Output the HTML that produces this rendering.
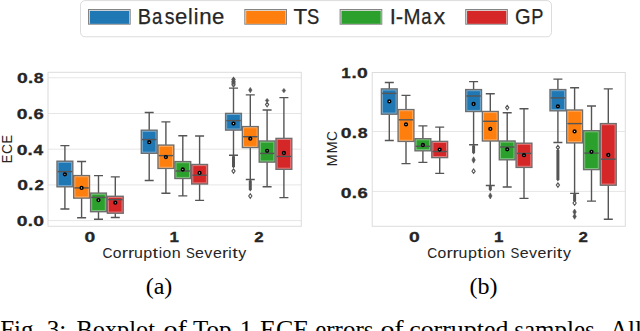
<!DOCTYPE html>
<html><head><meta charset="utf-8"><style>
html,body{margin:0;padding:0;background:#fff;width:640px;height:331px;overflow:hidden}
svg{display:block}
.tx{font-family:"Liberation Sans",sans-serif;fill:#262626}
.tk{font-family:"Liberation Sans",sans-serif;fill:#262626;font-weight:bold;stroke:#262626;stroke-width:0.3}
.lg{font-family:"Liberation Sans",sans-serif;fill:#262626;stroke:#262626;stroke-width:0.25}
.ser{font-family:"Liberation Serif",serif;fill:#000}
.ln{stroke:#555555;stroke-width:1.4;fill:none}
.bx{stroke:#6e6e6e;stroke-width:1.4}
.hl{fill:none;stroke:rgba(255,255,255,0.4);stroke-width:0.9}
.gr{stroke:#e6e6e6;stroke-width:1;fill:none}
.sp{stroke:#dcdcdc;stroke-width:1;fill:none}
.fl{fill:#fff;stroke:#555555;stroke-width:1.1}
.col{fill:#555555}
.mn{fill:#fff;stroke:#000;stroke-width:1.6}
</style></head><body>
<svg width="640" height="331" viewBox="0 0 640 331">
<rect x="80.5" y="0.6" width="471" height="36.2" rx="4.5" fill="#fff" stroke="#dcdcdc" stroke-width="1"/>
<rect x="88.5" y="9.5" width="41.7" height="14.7" fill="#dcdcdc" stroke="#858585" stroke-width="1"/>
<rect x="89.9" y="10.9" width="39.2" height="12.9" fill="#1f77b4"/>
<rect x="244.8" y="9.5" width="41.7" height="14.7" fill="#dcdcdc" stroke="#858585" stroke-width="1"/>
<rect x="246.20000000000002" y="10.9" width="39.2" height="12.9" fill="#ff7f0e"/>
<rect x="340.1" y="9.5" width="41.7" height="14.7" fill="#dcdcdc" stroke="#858585" stroke-width="1"/>
<rect x="341.5" y="10.9" width="39.2" height="12.9" fill="#2ca02c"/>
<rect x="465.7" y="9.5" width="41.7" height="14.7" fill="#dcdcdc" stroke="#858585" stroke-width="1"/>
<rect x="467.09999999999997" y="10.9" width="39.2" height="12.9" fill="#d62728"/>
<text class="lg" x="137.86" y="23.8" textLength="13.29" lengthAdjust="spacingAndGlyphs" style="font-size:21.5px">B</text>
<text class="lg" x="152.01" y="23.8" textLength="10.29" lengthAdjust="spacingAndGlyphs" style="font-size:21.5px">a</text>
<text class="lg" x="164.72" y="23.8" textLength="9.78" lengthAdjust="spacingAndGlyphs" style="font-size:21.5px">s</text>
<text class="lg" x="175.00" y="23.8" textLength="12.31" lengthAdjust="spacingAndGlyphs" style="font-size:21.5px">e</text>
<text class="lg" x="187.95" y="23.8" textLength="4.68" lengthAdjust="spacingAndGlyphs" style="font-size:21.5px">l</text>
<text class="lg" x="193.64" y="23.8" textLength="4.68" lengthAdjust="spacingAndGlyphs" style="font-size:21.5px">i</text>
<text class="lg" x="199.15" y="23.8" textLength="12.41" lengthAdjust="spacingAndGlyphs" style="font-size:21.5px">n</text>
<text class="lg" x="211.99" y="23.8" textLength="12.31" lengthAdjust="spacingAndGlyphs" style="font-size:21.5px">e</text>
<text class="lg" x="293.40" y="23.8" textLength="13.69" lengthAdjust="spacingAndGlyphs" style="font-size:21.5px">T</text>
<text class="lg" x="306.98" y="23.8" textLength="12.25" lengthAdjust="spacingAndGlyphs" style="font-size:21.5px">S</text>
<text class="lg" x="389.65" y="23.8" textLength="6.16" lengthAdjust="spacingAndGlyphs" style="font-size:21.5px">I</text>
<text class="lg" x="395.77" y="23.8" textLength="7.39" lengthAdjust="spacingAndGlyphs" style="font-size:21.5px">-</text>
<text class="lg" x="403.45" y="23.8" textLength="17.08" lengthAdjust="spacingAndGlyphs" style="font-size:21.5px">M</text>
<text class="lg" x="421.28" y="23.8" textLength="10.29" lengthAdjust="spacingAndGlyphs" style="font-size:21.5px">a</text>
<text class="lg" x="433.73" y="23.8" textLength="11.38" lengthAdjust="spacingAndGlyphs" style="font-size:21.5px">x</text>
<text class="lg" x="514.90" y="23.8" textLength="15.58" lengthAdjust="spacingAndGlyphs" style="font-size:21.5px">G</text>
<text class="lg" x="531.16" y="23.8" textLength="12.13" lengthAdjust="spacingAndGlyphs" style="font-size:21.5px">P</text>
<path d="M48 77.8H301.3" class="gr"/>
<path d="M48 113.5H301.3" class="gr"/>
<path d="M48 149.2H301.3" class="gr"/>
<path d="M48 184.9H301.3" class="gr"/>
<path d="M48 220.6H301.3" class="gr"/>
<rect x="48" y="72.3" width="253.3" height="154.0" class="sp"/>
<path d="M64.9 145.6V161.2M64.9 186.8V209.0M60.400000000000006 145.6H69.4M60.400000000000006 209.0H69.4" class="ln"/>
<rect x="57.00" y="161.2" width="15.80" height="25.60" fill="#1f77b4" class="bx"/>
<rect x="58.15" y="162.35" width="13.50" height="23.30" class="hl"/>
<path d="M57.70 171.6H72.10" class="ln"/>
<circle cx="64.9" cy="174.3" r="1.35" class="mn"/>
<path d="M81.6 161.5V175.6M81.6 198.1V217.8M77.1 161.5H86.1M77.1 217.8H86.1" class="ln"/>
<rect x="73.70" y="175.6" width="15.80" height="22.50" fill="#ff7f0e" class="bx"/>
<rect x="74.85" y="176.75" width="13.50" height="20.20" class="hl"/>
<path d="M74.40 187.9H88.80" class="ln"/>
<circle cx="81.6" cy="187.9" r="1.35" class="mn"/>
<path d="M98.5 175.6V193.1M98.5 211.7V219.3M94.0 175.6H103.0M94.0 219.3H103.0" class="ln"/>
<rect x="90.60" y="193.1" width="15.80" height="18.60" fill="#2ca02c" class="bx"/>
<rect x="91.75" y="194.25" width="13.50" height="16.30" class="hl"/>
<path d="M91.30 197.4H105.70" class="ln"/>
<circle cx="98.5" cy="200.1" r="1.35" class="mn"/>
<path d="M115.3 176.9V196.3M115.3 213.2V217.5M110.8 176.9H119.8M110.8 217.5H119.8" class="ln"/>
<rect x="107.40" y="196.3" width="15.80" height="16.90" fill="#d62728" class="bx"/>
<rect x="108.55" y="197.45" width="13.50" height="14.60" class="hl"/>
<path d="M108.10 199.6H122.50" class="ln"/>
<circle cx="115.3" cy="202.7" r="1.35" class="mn"/>
<path d="M149.2 112.5V130.2M149.2 153.3V180.5M144.7 112.5H153.7M144.7 180.5H153.7" class="ln"/>
<rect x="141.30" y="130.2" width="15.80" height="23.10" fill="#1f77b4" class="bx"/>
<rect x="142.45" y="131.35" width="13.50" height="20.80" class="hl"/>
<path d="M142.00 139.6H156.40" class="ln"/>
<circle cx="149.2" cy="142.2" r="1.35" class="mn"/>
<path d="M165.9 121.9V145.1M165.9 168.4V193.3M161.4 121.9H170.4M161.4 193.3H170.4" class="ln"/>
<rect x="158.00" y="145.1" width="15.80" height="23.30" fill="#ff7f0e" class="bx"/>
<rect x="159.15" y="146.25" width="13.50" height="21.00" class="hl"/>
<path d="M158.70 155.6H173.10" class="ln"/>
<circle cx="165.9" cy="157.1" r="1.35" class="mn"/>
<path d="M182.8 135.8V161.6M182.8 178.5V195.9M178.3 135.8H187.3M178.3 195.9H187.3" class="ln"/>
<rect x="174.90" y="161.6" width="15.80" height="16.90" fill="#2ca02c" class="bx"/>
<rect x="176.05" y="162.75" width="13.50" height="14.60" class="hl"/>
<path d="M175.60 171.0H190.00" class="ln"/>
<circle cx="182.8" cy="169.5" r="1.35" class="mn"/>
<path d="M199.6 136.0V164.5M199.6 184.0V200.4M195.1 136.0H204.1M195.1 200.4H204.1" class="ln"/>
<rect x="191.70" y="164.5" width="15.80" height="19.50" fill="#d62728" class="bx"/>
<rect x="192.85" y="165.65" width="13.50" height="17.20" class="hl"/>
<path d="M192.40 175.2H206.80" class="ln"/>
<circle cx="199.6" cy="172.9" r="1.35" class="mn"/>
<path d="M233.5 88.1V113.4M233.5 130.1V155.2M229.0 88.1H238.0M229.0 155.2H238.0" class="ln"/>
<rect x="225.60" y="113.4" width="15.80" height="16.70" fill="#1f77b4" class="bx"/>
<rect x="226.75" y="114.55" width="13.50" height="14.40" class="hl"/>
<path d="M226.30 120.6H240.70" class="ln"/>
<path d="M233.5 77.39999999999999L235.1 79.6L233.5 81.8L231.9 79.6Z" class="fl" style="fill:#8a8a8a"/>
<path d="M233.5 79.2L235.1 81.4L233.5 83.60000000000001L231.9 81.4Z" class="fl" style="fill:#8a8a8a"/>
<path d="M233.5 80.89999999999999L235.1 83.1L233.5 85.3L231.9 83.1Z" class="fl" style="fill:#8a8a8a"/>
<path d="M233.5 82.6L235.1 84.8L233.5 87.0L231.9 84.8Z" class="fl" style="fill:#8a8a8a"/>
<path d="M233.5 154.5L235.0 156.5V166.5L233.5 168.5L232.0 166.5V156.5Z" class="col"/>
<path d="M233.5 168.9L235.1 171.1L233.5 173.29999999999998L231.9 171.1Z" class="fl"/>
<circle cx="233.5" cy="123.6" r="1.35" class="mn"/>
<path d="M250.3 94.9V126.6M250.3 147.5V179.5M245.8 94.9H254.8M245.8 179.5H254.8" class="ln"/>
<rect x="242.40" y="126.6" width="15.80" height="20.90" fill="#ff7f0e" class="bx"/>
<rect x="243.55" y="127.75" width="13.50" height="18.60" class="hl"/>
<path d="M243.10 136.7H257.50" class="ln"/>
<path d="M250.3 87.39999999999999L252.0 90.1L250.3 92.8L248.60000000000002 90.1Z" class="col" stroke="#555555" stroke-width="0.6"/>
<path d="M250.3 179L251.8 181V189.5L250.3 191.5L248.8 189.5V181Z" class="col"/>
<path d="M250.3 193.8L251.9 196.0L250.3 198.2L248.70000000000002 196.0Z" class="fl"/>
<circle cx="250.3" cy="138.7" r="1.35" class="mn"/>
<path d="M267.1 110.0V141.0M267.1 162.1V186.7M262.6 110.0H271.6M262.6 186.7H271.6" class="ln"/>
<rect x="259.20" y="141.0" width="15.80" height="21.10" fill="#2ca02c" class="bx"/>
<rect x="260.35" y="142.15" width="13.50" height="18.80" class="hl"/>
<path d="M259.90 153.4H274.30" class="ln"/>
<path d="M267.1 98.4L268.8 100.5L267.1 102.6L265.40000000000003 100.5Z" class="col" stroke="#555555" stroke-width="0.6"/>
<path d="M267.1 102.39999999999999L268.70000000000005 104.6L267.1 106.8L265.5 104.6Z" class="fl"/>
<circle cx="267.1" cy="150.8" r="1.35" class="mn"/>
<path d="M283.9 97.6V138.4M283.9 169.3V197.6M279.4 97.6H288.4M279.4 197.6H288.4" class="ln"/>
<rect x="276.00" y="138.4" width="15.80" height="30.90" fill="#d62728" class="bx"/>
<rect x="277.15" y="139.55" width="13.50" height="28.60" class="hl"/>
<path d="M276.70 156.4H291.10" class="ln"/>
<path d="M283.9 88.39999999999999L285.59999999999997 90.6L283.9 92.8L282.2 90.6Z" class="col" stroke="#555555" stroke-width="0.6"/>
<circle cx="283.9" cy="153.0" r="1.35" class="mn"/>
<path d="M372.2 131.5H625.3" class="gr"/>
<path d="M372.2 191.4H625.3" class="gr"/>
<rect x="372.2" y="72.5" width="253.09999999999997" height="153.8" class="sp"/>
<path d="M389.3 82.5V88.9M389.3 114.2V140.5M384.8 82.5H393.8M384.8 140.5H393.8" class="ln"/>
<rect x="381.40" y="88.9" width="15.80" height="25.30" fill="#1f77b4" class="bx"/>
<rect x="382.55" y="90.05" width="13.50" height="23.00" class="hl"/>
<path d="M382.10 93.4H396.50" class="ln"/>
<circle cx="389.3" cy="101.4" r="1.35" class="mn"/>
<path d="M406.0 95.4V109.6M406.0 141.4V163.6M401.5 95.4H410.5M401.5 163.6H410.5" class="ln"/>
<rect x="398.10" y="109.6" width="15.80" height="31.80" fill="#ff7f0e" class="bx"/>
<rect x="399.25" y="110.75" width="13.50" height="29.50" class="hl"/>
<path d="M398.80 119.8H413.20" class="ln"/>
<circle cx="406.0" cy="124.4" r="1.35" class="mn"/>
<path d="M422.9 125.9V138.7M422.9 150.8V162.4M418.4 125.9H427.4M418.4 162.4H427.4" class="ln"/>
<rect x="415.00" y="138.7" width="15.80" height="12.10" fill="#2ca02c" class="bx"/>
<rect x="416.15" y="139.85" width="13.50" height="9.80" class="hl"/>
<path d="M415.70 146.3H430.10" class="ln"/>
<circle cx="422.9" cy="145.0" r="1.35" class="mn"/>
<path d="M439.7 127.1V141.4M439.7 157.6V173.4M435.2 127.1H444.2M435.2 173.4H444.2" class="ln"/>
<rect x="431.80" y="141.4" width="15.80" height="16.20" fill="#d62728" class="bx"/>
<rect x="432.95" y="142.55" width="13.50" height="13.90" class="hl"/>
<path d="M432.50 151.5H446.90" class="ln"/>
<circle cx="439.7" cy="149.6" r="1.35" class="mn"/>
<path d="M473.6 81.6V89.6M473.6 111.5V144.7M469.1 81.6H478.1M469.1 144.7H478.1" class="ln"/>
<rect x="465.70" y="89.6" width="15.80" height="21.90" fill="#1f77b4" class="bx"/>
<rect x="466.85" y="90.75" width="13.50" height="19.60" class="hl"/>
<path d="M466.40 96.0H480.80" class="ln"/>
<path d="M473.6 144L475.1 146V152.5L473.6 154.5L472.1 152.5V146Z" class="col"/>
<path d="M473.6 156.8L475.3 160.0L473.6 163.2L471.90000000000003 160.0Z" class="col" stroke="#555555" stroke-width="0.6"/>
<path d="M473.6 169.0L475.20000000000005 171.2L473.6 173.39999999999998L472.0 171.2Z" class="fl"/>
<circle cx="473.6" cy="104.0" r="1.35" class="mn"/>
<path d="M490.3 93.7V111.5M490.3 141.0V185.5M485.8 93.7H494.8M485.8 185.5H494.8" class="ln"/>
<rect x="482.40" y="111.5" width="15.80" height="29.50" fill="#ff7f0e" class="bx"/>
<rect x="483.55" y="112.65" width="13.50" height="27.20" class="hl"/>
<path d="M483.10 121.3H497.50" class="ln"/>
<path d="M490.3 184.5L491.8 186.5V189.5L490.3 191.5L488.8 189.5V186.5Z" class="col"/>
<path d="M490.3 192.8L492.0 195.9L490.3 199.0L488.6 195.9Z" class="col" stroke="#555555" stroke-width="0.6"/>
<circle cx="490.3" cy="128.9" r="1.35" class="mn"/>
<path d="M507.2 112.7V141.0M507.2 159.8V187.0M502.7 112.7H511.7M502.7 187.0H511.7" class="ln"/>
<rect x="499.30" y="141.0" width="15.80" height="18.80" fill="#2ca02c" class="bx"/>
<rect x="500.45" y="142.15" width="13.50" height="16.50" class="hl"/>
<path d="M500.00 147.0H514.40" class="ln"/>
<path d="M507.2 105.39999999999999L508.8 107.6L507.2 109.8L505.59999999999997 107.6Z" class="fl"/>
<circle cx="507.2" cy="149.3" r="1.35" class="mn"/>
<path d="M524.0 108.8V143.2M524.0 167.4V198.4M519.5 108.8H528.5M519.5 198.4H528.5" class="ln"/>
<rect x="516.10" y="143.2" width="15.80" height="24.20" fill="#d62728" class="bx"/>
<rect x="517.25" y="144.35" width="13.50" height="21.90" class="hl"/>
<path d="M516.80 153.4H531.20" class="ln"/>
<circle cx="524.0" cy="155.2" r="1.35" class="mn"/>
<path d="M557.9 79.1V89.6M557.9 110.8V142.5M553.4 79.1H562.4M553.4 142.5H562.4" class="ln"/>
<rect x="550.00" y="89.6" width="15.80" height="21.20" fill="#1f77b4" class="bx"/>
<rect x="551.15" y="90.75" width="13.50" height="18.90" class="hl"/>
<path d="M550.70 97.9H565.10" class="ln"/>
<path d="M557.9 145.20000000000002L559.5 147.4L557.9 149.6L556.3 147.4Z" class="fl"/>
<path d="M557.9 148.5L559.4 150.5V179.5L557.9 181.5L556.4 179.5V150.5Z" class="col"/>
<path d="M557.9 182.9L559.5 185.1L557.9 187.29999999999998L556.3 185.1Z" class="fl"/>
<circle cx="557.9" cy="106.3" r="1.35" class="mn"/>
<path d="M574.6 87.7V110.0M574.6 142.9V193.4M570.1 87.7H579.1M570.1 193.4H579.1" class="ln"/>
<rect x="566.70" y="110.0" width="15.80" height="32.90" fill="#ff7f0e" class="bx"/>
<rect x="567.85" y="111.15" width="13.50" height="30.60" class="hl"/>
<path d="M567.40 123.6H581.80" class="ln"/>
<path d="M574.6 192.5L576.1 194.5V200.5L574.6 202.5L573.1 200.5V194.5Z" class="col"/>
<path d="M574.6 200.8L576.2 203.0L574.6 205.2L573.0 203.0Z" class="fl"/>
<path d="M574.6 209.0L576.3000000000001 211.9L574.6 214.8L572.9 211.9Z" class="col" stroke="#555555" stroke-width="0.6"/>
<path d="M574.6 213.5L576.3000000000001 216.4L574.6 219.3L572.9 216.4Z" class="col" stroke="#555555" stroke-width="0.6"/>
<circle cx="574.6" cy="131.4" r="1.35" class="mn"/>
<path d="M591.5 106.0V130.7M591.5 169.6V201.1M587.0 106.0H596.0M587.0 201.1H596.0" class="ln"/>
<rect x="583.60" y="130.7" width="15.80" height="38.90" fill="#2ca02c" class="bx"/>
<rect x="584.75" y="131.85" width="13.50" height="36.60" class="hl"/>
<path d="M584.30 153.1H598.70" class="ln"/>
<circle cx="591.5" cy="151.8" r="1.35" class="mn"/>
<path d="M608.3 88.9V123.6M608.3 185.2V219.3M603.8 88.9H612.8M603.8 219.3H612.8" class="ln"/>
<rect x="600.40" y="123.6" width="15.80" height="61.60" fill="#d62728" class="bx"/>
<rect x="601.55" y="124.75" width="13.50" height="59.30" class="hl"/>
<path d="M601.10 159.2H615.50" class="ln"/>
<circle cx="608.3" cy="155.0" r="1.35" class="mn"/>
<text class="tk" x="16.92" y="83.1" textLength="10.75" lengthAdjust="spacingAndGlyphs" style="font-size:15.5px">0</text>
<text class="tk" x="27.91" y="83.1" textLength="5.22" lengthAdjust="spacingAndGlyphs" style="font-size:15.5px">.</text>
<text class="tk" x="33.76" y="83.1" textLength="9.89" lengthAdjust="spacingAndGlyphs" style="font-size:15.5px">8</text>
<text class="tk" x="16.77" y="118.8" textLength="10.75" lengthAdjust="spacingAndGlyphs" style="font-size:15.5px">0</text>
<text class="tk" x="27.76" y="118.8" textLength="5.22" lengthAdjust="spacingAndGlyphs" style="font-size:15.5px">.</text>
<text class="tk" x="33.54" y="118.8" textLength="10.23" lengthAdjust="spacingAndGlyphs" style="font-size:15.5px">6</text>
<text class="tk" x="16.65" y="154.5" textLength="10.75" lengthAdjust="spacingAndGlyphs" style="font-size:15.5px">0</text>
<text class="tk" x="27.64" y="154.5" textLength="5.22" lengthAdjust="spacingAndGlyphs" style="font-size:15.5px">.</text>
<text class="tk" x="33.58" y="154.5" textLength="9.62" lengthAdjust="spacingAndGlyphs" style="font-size:15.5px">4</text>
<text class="tk" x="17.26" y="190.2" textLength="10.75" lengthAdjust="spacingAndGlyphs" style="font-size:15.5px">0</text>
<text class="tk" x="28.25" y="190.2" textLength="5.22" lengthAdjust="spacingAndGlyphs" style="font-size:15.5px">.</text>
<text class="tk" x="34.40" y="190.2" textLength="9.40" lengthAdjust="spacingAndGlyphs" style="font-size:15.5px">2</text>
<text class="tk" x="16.69" y="225.9" textLength="10.75" lengthAdjust="spacingAndGlyphs" style="font-size:15.5px">0</text>
<text class="tk" x="27.68" y="225.9" textLength="5.22" lengthAdjust="spacingAndGlyphs" style="font-size:15.5px">.</text>
<text class="tk" x="33.15" y="225.9" textLength="10.75" lengthAdjust="spacingAndGlyphs" style="font-size:15.5px">0</text>
<text class="tk" x="341.30" y="77.8" textLength="9.42" lengthAdjust="spacingAndGlyphs" style="font-size:15.5px">1</text>
<text class="tk" x="351.58" y="77.8" textLength="5.22" lengthAdjust="spacingAndGlyphs" style="font-size:15.5px">.</text>
<text class="tk" x="357.05" y="77.8" textLength="10.75" lengthAdjust="spacingAndGlyphs" style="font-size:15.5px">0</text>
<text class="tk" x="340.82" y="137.7" textLength="10.75" lengthAdjust="spacingAndGlyphs" style="font-size:15.5px">0</text>
<text class="tk" x="351.81" y="137.7" textLength="5.22" lengthAdjust="spacingAndGlyphs" style="font-size:15.5px">.</text>
<text class="tk" x="357.66" y="137.7" textLength="9.89" lengthAdjust="spacingAndGlyphs" style="font-size:15.5px">8</text>
<text class="tk" x="340.67" y="197.6" textLength="10.75" lengthAdjust="spacingAndGlyphs" style="font-size:15.5px">0</text>
<text class="tk" x="351.66" y="197.6" textLength="5.22" lengthAdjust="spacingAndGlyphs" style="font-size:15.5px">.</text>
<text class="tk" x="357.44" y="197.6" textLength="10.23" lengthAdjust="spacingAndGlyphs" style="font-size:15.5px">6</text>
<text class="tk" x="84.44" y="242" textLength="10.75" lengthAdjust="spacingAndGlyphs" style="font-size:15.5px">0</text>
<text class="tk" x="169.50" y="242" textLength="9.42" lengthAdjust="spacingAndGlyphs" style="font-size:15.5px">1</text>
<text class="tk" x="254.25" y="242" textLength="9.40" lengthAdjust="spacingAndGlyphs" style="font-size:15.5px">2</text>
<text class="tk" x="408.94" y="242" textLength="10.75" lengthAdjust="spacingAndGlyphs" style="font-size:15.5px">0</text>
<text class="tk" x="493.90" y="242" textLength="9.42" lengthAdjust="spacingAndGlyphs" style="font-size:15.5px">1</text>
<text class="tk" x="578.55" y="242" textLength="9.40" lengthAdjust="spacingAndGlyphs" style="font-size:15.5px">2</text>
<text class="tx" x="102.51" y="258.0" textLength="9.97" lengthAdjust="spacingAndGlyphs" style="font-size:15.5px">C</text>
<text class="tx" x="112.87" y="258.0" textLength="8.75" lengthAdjust="spacingAndGlyphs" style="font-size:15.5px">o</text>
<text class="tx" x="121.83" y="258.0" textLength="6.31" lengthAdjust="spacingAndGlyphs" style="font-size:15.5px">r</text>
<text class="tx" x="127.91" y="258.0" textLength="6.31" lengthAdjust="spacingAndGlyphs" style="font-size:15.5px">r</text>
<text class="tx" x="133.91" y="258.0" textLength="8.86" lengthAdjust="spacingAndGlyphs" style="font-size:15.5px">u</text>
<text class="tx" x="143.35" y="258.0" textLength="8.96" lengthAdjust="spacingAndGlyphs" style="font-size:15.5px">p</text>
<text class="tx" x="152.57" y="258.0" textLength="5.48" lengthAdjust="spacingAndGlyphs" style="font-size:15.5px">t</text>
<text class="tx" x="158.64" y="258.0" textLength="3.38" lengthAdjust="spacingAndGlyphs" style="font-size:15.5px">i</text>
<text class="tx" x="162.52" y="258.0" textLength="8.75" lengthAdjust="spacingAndGlyphs" style="font-size:15.5px">o</text>
<text class="tx" x="171.67" y="258.0" textLength="8.96" lengthAdjust="spacingAndGlyphs" style="font-size:15.5px">n</text>
<text class="tx" x="185.88" y="258.0" textLength="8.84" lengthAdjust="spacingAndGlyphs" style="font-size:15.5px">S</text>
<text class="tx" x="195.04" y="258.0" textLength="8.89" lengthAdjust="spacingAndGlyphs" style="font-size:15.5px">e</text>
<text class="tx" x="204.38" y="258.0" textLength="8.04" lengthAdjust="spacingAndGlyphs" style="font-size:15.5px">v</text>
<text class="tx" x="212.91" y="258.0" textLength="8.89" lengthAdjust="spacingAndGlyphs" style="font-size:15.5px">e</text>
<text class="tx" x="221.93" y="258.0" textLength="6.31" lengthAdjust="spacingAndGlyphs" style="font-size:15.5px">r</text>
<text class="tx" x="228.34" y="258.0" textLength="3.38" lengthAdjust="spacingAndGlyphs" style="font-size:15.5px">i</text>
<text class="tx" x="232.19" y="258.0" textLength="5.48" lengthAdjust="spacingAndGlyphs" style="font-size:15.5px">t</text>
<text class="tx" x="238.28" y="258.0" textLength="7.96" lengthAdjust="spacingAndGlyphs" style="font-size:15.5px">y</text>
<text class="tx" x="427.21" y="258.0" textLength="9.97" lengthAdjust="spacingAndGlyphs" style="font-size:15.5px">C</text>
<text class="tx" x="437.57" y="258.0" textLength="8.75" lengthAdjust="spacingAndGlyphs" style="font-size:15.5px">o</text>
<text class="tx" x="446.53" y="258.0" textLength="6.31" lengthAdjust="spacingAndGlyphs" style="font-size:15.5px">r</text>
<text class="tx" x="452.61" y="258.0" textLength="6.31" lengthAdjust="spacingAndGlyphs" style="font-size:15.5px">r</text>
<text class="tx" x="458.61" y="258.0" textLength="8.86" lengthAdjust="spacingAndGlyphs" style="font-size:15.5px">u</text>
<text class="tx" x="468.05" y="258.0" textLength="8.96" lengthAdjust="spacingAndGlyphs" style="font-size:15.5px">p</text>
<text class="tx" x="477.27" y="258.0" textLength="5.48" lengthAdjust="spacingAndGlyphs" style="font-size:15.5px">t</text>
<text class="tx" x="483.34" y="258.0" textLength="3.38" lengthAdjust="spacingAndGlyphs" style="font-size:15.5px">i</text>
<text class="tx" x="487.22" y="258.0" textLength="8.75" lengthAdjust="spacingAndGlyphs" style="font-size:15.5px">o</text>
<text class="tx" x="496.37" y="258.0" textLength="8.96" lengthAdjust="spacingAndGlyphs" style="font-size:15.5px">n</text>
<text class="tx" x="510.58" y="258.0" textLength="8.84" lengthAdjust="spacingAndGlyphs" style="font-size:15.5px">S</text>
<text class="tx" x="519.74" y="258.0" textLength="8.89" lengthAdjust="spacingAndGlyphs" style="font-size:15.5px">e</text>
<text class="tx" x="529.08" y="258.0" textLength="8.04" lengthAdjust="spacingAndGlyphs" style="font-size:15.5px">v</text>
<text class="tx" x="537.61" y="258.0" textLength="8.89" lengthAdjust="spacingAndGlyphs" style="font-size:15.5px">e</text>
<text class="tx" x="546.63" y="258.0" textLength="6.31" lengthAdjust="spacingAndGlyphs" style="font-size:15.5px">r</text>
<text class="tx" x="553.04" y="258.0" textLength="3.38" lengthAdjust="spacingAndGlyphs" style="font-size:15.5px">i</text>
<text class="tx" x="556.89" y="258.0" textLength="5.48" lengthAdjust="spacingAndGlyphs" style="font-size:15.5px">t</text>
<text class="tx" x="562.98" y="258.0" textLength="7.96" lengthAdjust="spacingAndGlyphs" style="font-size:15.5px">y</text>
<g transform="translate(12.4,148.8) rotate(-90)"><text class="tx" x="-14.38" y="0" textLength="8.55" lengthAdjust="spacingAndGlyphs" style="font-size:15.5px">E</text>
<text class="tx" x="-5.29" y="0" textLength="9.97" lengthAdjust="spacingAndGlyphs" style="font-size:15.5px">C</text>
<text class="tx" x="5.31" y="0" textLength="8.55" lengthAdjust="spacingAndGlyphs" style="font-size:15.5px">E</text></g>
<g transform="translate(336.7,148.35) rotate(-90)"><text class="tx" x="-18.04" y="0" textLength="12.33" lengthAdjust="spacingAndGlyphs" style="font-size:15.5px">M</text>
<text class="tx" x="-5.27" y="0" textLength="12.33" lengthAdjust="spacingAndGlyphs" style="font-size:15.5px">M</text>
<text class="tx" x="7.40" y="0" textLength="9.97" lengthAdjust="spacingAndGlyphs" style="font-size:15.5px">C</text></g>
<text class="ser" x="159" y="293.8" font-size="24" text-anchor="middle">(a)</text>
<text class="ser" x="483.4" y="293.8" font-size="24" text-anchor="middle">(b)</text>
<text class="ser" x="0.2" y="338" font-size="25">Fig.</text>
<text class="ser" x="46.8" y="338" font-size="25">3:</text>
<text class="ser" x="76.5" y="338" font-size="25" textLength="78.5" lengthAdjust="spacingAndGlyphs">Boxplot</text>
<text class="ser" x="163.4" y="338" font-size="25" textLength="23.5" lengthAdjust="spacingAndGlyphs">of</text>
<text class="ser" x="193.0" y="338" font-size="25">Top-1</text>
<text class="ser" x="260.0" y="338" font-size="25" textLength="49.2" lengthAdjust="spacingAndGlyphs">ECE</text>
<text class="ser" x="315.2" y="338" font-size="25">errors</text>
<text class="ser" x="380.4" y="338" font-size="25" textLength="23.3" lengthAdjust="spacingAndGlyphs">of</text>
<text class="ser" x="409.2" y="338" font-size="25" textLength="99.2" lengthAdjust="spacingAndGlyphs">corrupted</text>
<text class="ser" x="514.2" y="338" font-size="25">samples.</text>
<text class="ser" x="610.0" y="338" font-size="25">All</text>
</svg>
</body></html>
